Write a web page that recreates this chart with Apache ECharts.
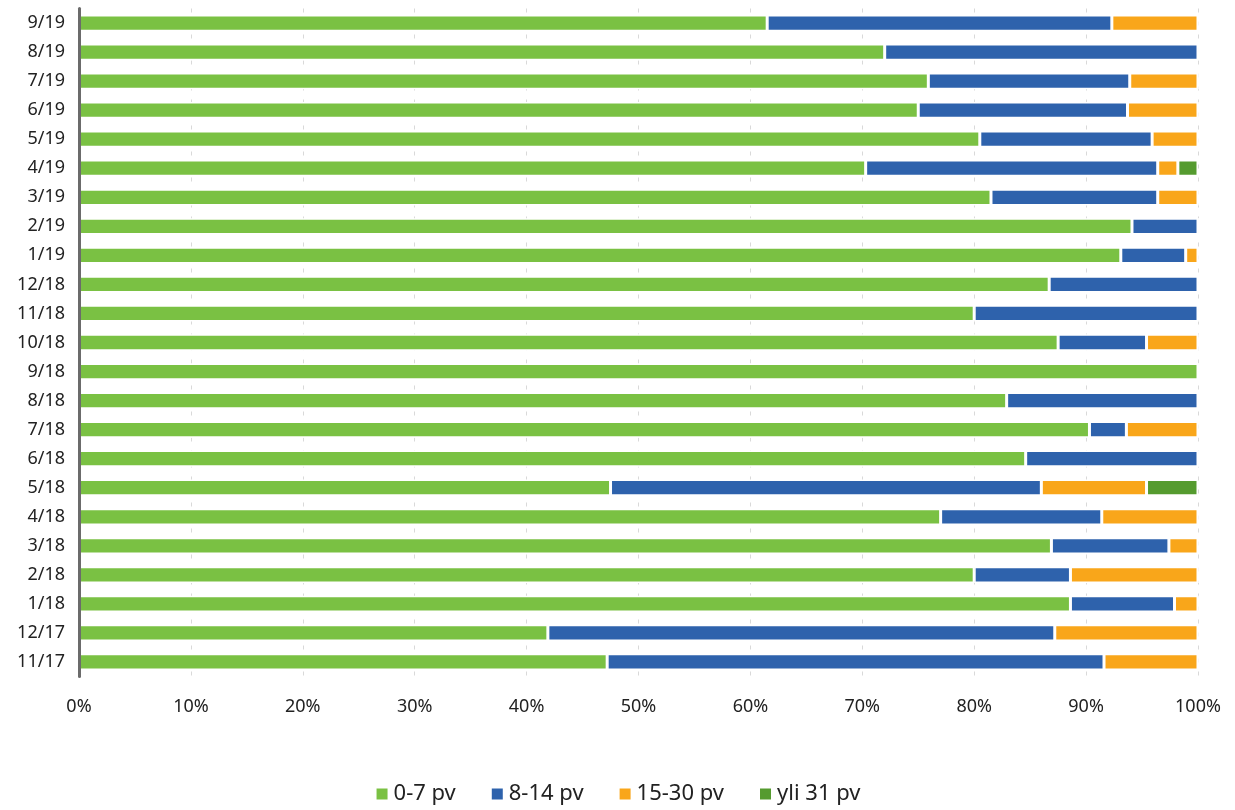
<!DOCTYPE html>
<html>
<head>
<meta charset="utf-8">
<script src="https://cdn.jsdelivr.net/npm/echarts@6/dist/echarts.min.js"></script>
<style>html,body{margin:0;padding:0;background:#fff}#c{width:1235px;height:810px}</style>
</head>
<body>
<div id="c"></div>
<script>
const categories = ['11/17','12/17','1/18','2/18','3/18','4/18','5/18','6/18','7/18','8/18','9/18','10/18','11/18','12/18','1/19','2/19','3/19','4/19','5/19','6/19','7/19','8/19','9/19'];
const s0_7 =   [47.2, 41.9, 88.6, 80.0, 86.9, 77.0, 47.5, 84.6, 90.3, 82.9, 100, 87.5, 80.0, 86.7, 93.1, 94.1, 81.5, 70.3, 80.5, 75.0, 75.9, 72.0, 61.5];
const s8_14 =  [44.4, 45.3, 9.3, 8.6, 10.5, 14.4, 38.5, 15.4, 3.3, 17.1, 0, 7.9, 20.0, 13.3, 5.8, 5.9, 14.9, 26.1, 15.4, 18.7, 18.0, 28.0, 30.8];
const s15_30 = [8.4, 12.8, 2.1, 11.4, 2.6, 8.6, 9.4, 0, 6.4, 0, 0, 4.6, 0, 0, 1.1, 0, 3.6, 1.8, 4.1, 6.3, 6.1, 0, 7.7];
const s31 =    [0, 0, 0, 0, 0, 0, 4.6, 0, 0, 0, 0, 0, 0, 0, 0, 0, 0, 1.8, 0, 0, 0, 0, 0];
const seriesNames = ['0-7 pv','8-14 pv','15-30 pv','yli 31 pv'];
const colors = ['#7AC143','#2E62AC','#F9A61A','#559B2F'];
const xTicks = [0,10,20,30,40,50,60,70,80,90,100];

const chart = echarts.init(document.getElementById('c'));
const font = 'Noto Sans';
const mk = (name, data, i) => ({
  name, type: 'bar', stack: 'a', data,
  barCategoryGap: '44%',
  itemStyle: { color: colors[i], borderColor: '#fff', borderWidth: 1.5 },
  emphasis: { disabled: true }
});
chart.setOption({
  animation: false,
  textStyle: { fontFamily: font },
  grid: { left: 79, right: 37, top: 8.5, bottom: 133.5 },
  xAxis: {
    type: 'value', min: 0, max: 100, interval: 10,
    axisLabel: { formatter: v => v + '%', fontSize: 18, color: '#222', margin: 21, fontFamily: font },
    axisLine: { show: false }, axisTick: { show: false },
    splitLine: { show: true, lineStyle: { color: '#d9d9d9', type: [4, 9], width: 1 } }
  },
  yAxis: {
    type: 'category', data: categories, z: 10,
    axisLabel: { fontSize: 18, color: '#222', margin: 14, fontFamily: font },
    axisLine: { show: true, lineStyle: { color: '#6b6b6b', width: 3 } },
    axisTick: { show: false }
  },
  legend: {
    bottom: 0, left: 'center', itemWidth: 13, itemHeight: 13, itemGap: 34, icon: 'rect',
    textStyle: { fontSize: 22, color: '#222', fontFamily: font },
    data: seriesNames
  },
  series: [mk(seriesNames[0], s0_7, 0), mk(seriesNames[1], s8_14, 1), mk(seriesNames[2], s15_30, 2), mk(seriesNames[3], s31, 3)]
});
</script>
</body>
</html>
